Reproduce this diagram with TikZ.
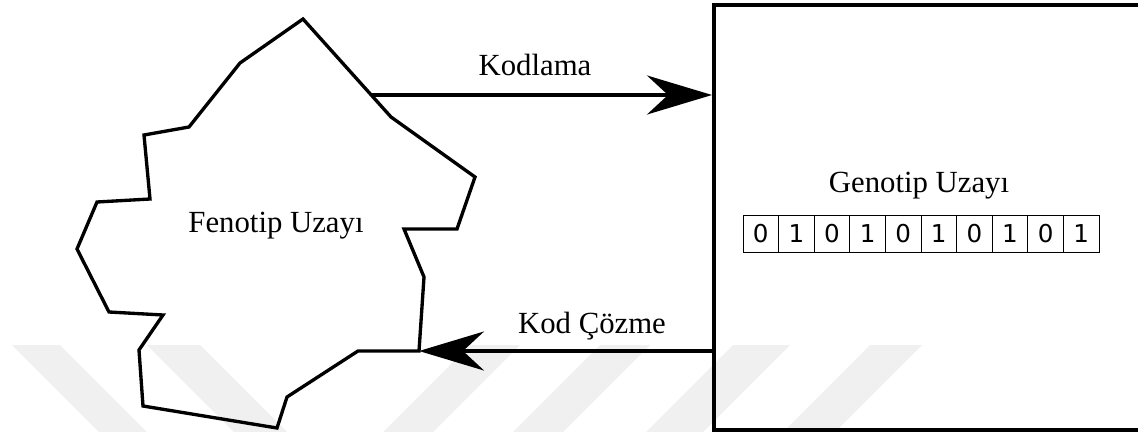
\documentclass[tikz,border=0pt]{standalone}
\usepackage{fontspec}
\setmainfont{Liberation Serif}
\newfontfamily\bitfont{DejaVu Sans}
\usetikzlibrary{arrows.meta,positioning}

\begin{document}
\begin{tikzpicture}[x=0.02cm,y=-0.02cm,line width=1.9pt,line join=miter,
  >={Stealth[length=1.3cm,width=0.78cm,inset=0.42cm]},
  lbl/.style={font=\fontsize{17.5}{21}\selectfont,inner sep=0pt,anchor=base},
  bit/.style={draw,line width=0.5pt,inner sep=0pt,minimum width=0.712cm,
    minimum height=0.74cm,font=\bitfont\fontsize{14}{16}\selectfont},
  wm/.style={fill=black!6,draw=none}]

\useasboundingbox (0,0) rectangle (1138,432);

\fill[wm] (12,345) -- (60,345) -- (147,432) -- (99,432) -- cycle;
\fill[wm] (147,345) -- (200,345) -- (287,432) -- (234,432) -- cycle;
\fill[wm] (470,345) -- (520,345) -- (433,432) -- (383,432) -- cycle;
\fill[wm] (600,345) -- (650,345) -- (563,432) -- (513,432) -- cycle;
\fill[wm] (733,345) -- (790,345) -- (703,432) -- (646,432) -- cycle;
\fill[wm] (870,345) -- (922,345) -- (835,432) -- (783,432) -- cycle;

% fenotip
\draw (303,19) -- (240,63) -- (189,127) -- (144,135) -- (150,199)
  -- (97,202) -- (77,249) -- (109,312) -- (163,315) -- (139,350)
  -- (143,406) -- (277,428) -- (287,397) -- (358,351) -- (419,351)
  -- (424,277) -- (404,229) -- (457,229) -- (475,177) -- (391,117)
  -- cycle;
\coordinate (K) at (372,95);
\coordinate (D) at (419,351);
\node[lbl] (F) at (276,232) {Fenotip Uzayı};

% genotip
\node[draw,line width=2.4pt,inner sep=0pt,anchor=north west,
  minimum width=8.56cm,minimum height=8.5cm] (G) at (712,3) {};
\node[lbl] (GU) at (919,193) {Genotip Uzayı};
\foreach \b [count=\i] in {0,1,0,1,0,1,0,1,0,1}
  \node[bit] (B\i) at ({743+35.6*(\i-0.5)},233.5) {\b};

\path[->]
  (K) edge (G.west |- K)
  (G.west |- D) edge (D);

\node[lbl] (KL) at (535,76) {Kodlama};
\node[lbl] (KC) at (592,333) {Kod Çözme};

\end{tikzpicture}
\end{document}
